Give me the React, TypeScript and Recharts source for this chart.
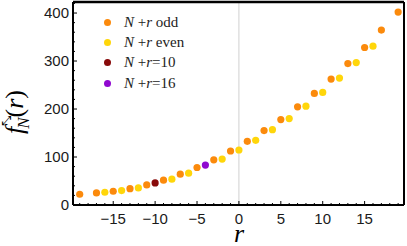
import { ScatterChart, Scatter, XAxis, YAxis, ReferenceLine } from "recharts";

// N = 20, so N+r parity follows r
const rOdd = [-19, -17, -15, -13, -11, -9, -7, -5, -3, -1, 1, 3, 5, 7, 9, 11, 13, 15, 17, 19];
const fOdd = [22.4, 25.1, 28.7, 34.1, 41.9, 51.7, 64.3, 78.1, 94.2, 112.5, 132.6, 155, 178, 204.6, 232.5, 262.4, 294.7, 328.2, 364.4, 402];
const rEven = [-16, -14, -12, -8, -6, -2, 0, 2, 4, 6, 8, 10, 12, 14, 16];
const fEven = [26.6, 30, 35.6, 53.8, 66.4, 95.7, 114.6, 134.7, 157, 180, 205.9, 234.6, 264.5, 296.8, 330.9];
const rTen = [-10];
const fTen = [46];
const rSixteen = [-4];
const fSixteen = [83.1];

const xTicks = Array.from({ length: 39 }, (_, i) => i - 19);
const yTicks = Array.from({ length: 22 }, (_, i) => i * 20);

const toPts = (rs: number[], fs: number[]) => rs.map((r, i) => ({ r, f: fs[i] }));

const series = [
  { name: "odd", data: toPts(rOdd, fOdd), color: "#FB8A0C", label: " odd" },
  { name: "even", data: toPts(rEven, fEven), color: "#FFD60A", label: " even" },
  { name: "ten", data: toPts(rTen, fTen), color: "#880A0A", label: "=10" },
  { name: "sixteen", data: toPts(rSixteen, fSixteen), color: "#9008D0", label: "=16" },
];

const X_MIN = -19.8;
const X_MAX = 19.7;
const Y_MAX = 423;

const serif = "'Liberation Serif', 'Times New Roman', serif";
const tickFont = { fontFamily: "'Liberation Sans', Arial, sans-serif", fontSize: 15, fill: "#1a1a1a" };
const fmt = (v: number) => (v < 0 ? `\u2212${-v}` : `${v}`);

function XTick(props: any) {
  const { x, y, payload } = props;
  const major = payload.value % 5 === 0;
  return (
    <g>
      <line x1={x} x2={x} y1={y} y2={y - (major ? 4 : 2)} stroke="#000" strokeWidth={1} />
      {major && (
        <text x={x} y={y + 19} textAnchor="middle" style={tickFont}>
          {fmt(payload.value)}
        </text>
      )}
    </g>
  );
}

function YTick(props: any) {
  const { x, y, payload } = props;
  const major = payload.value % 100 === 0;
  return (
    <g>
      <line x1={x} x2={x + (major ? 4 : 2)} y1={y} y2={y} stroke="#000" strokeWidth={1} />
      {major && (
        <text x={x - 4} y={y + 5} textAnchor="end" style={tickFont}>
          {payload.value}
        </text>
      )}
    </g>
  );
}

// axis titles drawn in an overlay so the serif font is kept as is
function AxisTitles() {
  return (
    <svg width={407} height={246} style={{ position: "absolute", left: 0, top: 0, pointerEvents: "none" }}>
      <text transform="translate(23,112) rotate(-90)" textAnchor="middle" fontFamily={serif} fontSize={26} fill="#000">
        <tspan fontStyle="italic">f</tspan>
        <tspan fontSize={13} dy={-12} dx={1}>⤡</tspan>
        <tspan fontStyle="italic" fontSize={17} dx={-13} dy={18}>N</tspan>
        <tspan dy={-6}>(</tspan>
        <tspan fontStyle="italic">r</tspan>
        <tspan>)</tspan>
      </text>
      <text x={239} y={242} textAnchor="middle" fontFamily={serif} fontStyle="italic" fontSize={26} fill="#000">
        r
      </text>
    </svg>
  );
}

function LegendBox() {
  return (
    <div style={{ position: "absolute", top: 12, left: 104, fontFamily: serif, fontSize: 15, color: "#222" }}>
      {series.map((s) => (
        <div key={s.name} style={{ display: "flex", alignItems: "center", height: 20.3, whiteSpace: "nowrap" }}>
          <span style={{ width: 7, height: 7, borderRadius: "50%", background: s.color, display: "inline-block", marginRight: 13 }} />
          <span>
            <i>N</i> +<i>r</i>
            {s.label}
          </span>
        </div>
      ))}
    </div>
  );
}

export default function App() {
  return (
    <div style={{ position: "relative", width: 407, height: 246 }}>
      <style>{`body{margin:0}`}</style>
      <ScatterChart width={407} height={246} margin={{ top: 2, right: 3, left: 0, bottom: 0 }}>
        <XAxis
          type="number"
          dataKey="r"
          domain={[X_MIN, X_MAX]}
          ticks={xTicks}
          interval={0}
          allowDataOverflow
          height={41}
          tickSize={0}
          tickMargin={0}
          tickLine={false}
          axisLine={{ stroke: "#000", strokeWidth: 2 }}
          tick={<XTick />}
        />
        <YAxis
          type="number"
          dataKey="f"
          domain={[0, Y_MAX]}
          ticks={yTicks}
          interval={0}
          allowDataOverflow
          width={73}
          tickSize={0}
          tickMargin={0}
          tickLine={false}
          axisLine={{ stroke: "#000", strokeWidth: 2 }}
          tick={<YTick />}
        />
        <ReferenceLine x={0} stroke="#d0d0d0" strokeWidth={1} />
        <ReferenceLine y={Y_MAX} stroke="#000" strokeWidth={2.5} />
        <ReferenceLine x={X_MAX} stroke="#000" strokeWidth={2} />
        {series.map((s) => (
          <Scatter
            key={s.name}
            name={s.name}
            data={s.data}
            fill={s.color}
            shape={(p: any) => <circle cx={p.cx} cy={p.cy} r={3.6} fill={s.color} />}
            isAnimationActive={false}
          />
        ))}
      </ScatterChart>
      <LegendBox />
      <AxisTitles />
    </div>
  );
}
